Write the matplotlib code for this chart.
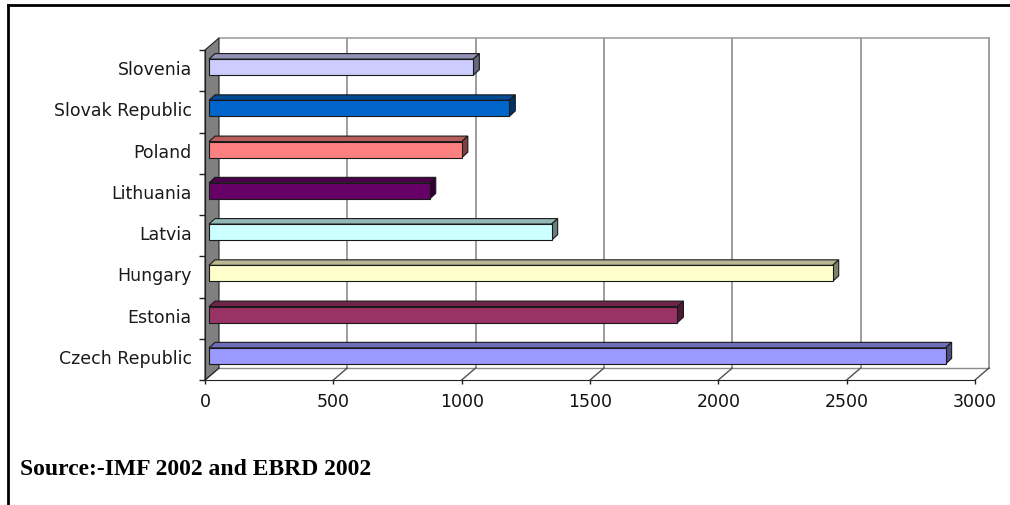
import numpy as np
import matplotlib.pyplot as plt
from matplotlib.patches import Polygon, Rectangle
from matplotlib.colors import to_rgb

# ── data ─────────────────────────────────────────────────────────────────────
countries = ["Czech Republic", "Estonia", "Hungary", "Latvia",
             "Lithuania", "Poland", "Slovak Republic", "Slovenia"]
values = [2870, 1825, 2430, 1335, 860, 985, 1170, 1030]
colors = ["#9999FF", "#993366", "#FFFFCC", "#CCFFFF",
          "#660066", "#FF8080", "#0066CC", "#CCCCFF"]
xticks = [0, 500, 1000, 1500, 2000, 2500, 3000]
source = "Source:-IMF 2002 and EBRD 2002"

# ── figure / axes geometry (pixels at dpi=100) ───────────────────────────────
W, H = 1010, 506
fig = plt.figure(figsize=(W / 100, H / 100), dpi=100)
ax_l, ax_r, ax_top, ax_bot = 205, 975, 51, 381
ax = fig.add_axes([ax_l / W, (H - ax_bot) / H,
                   (ax_r - ax_l) / W, (ax_bot - ax_top) / H])
XMAX = 3000
n = len(countries)
ax.set_xlim(0, XMAX)
ax.set_ylim(-0.5, n - 0.5)

# pixel -> data conversion for the fake depth
XPX = XMAX / (ax_r - ax_l)
YPX = n / (ax_bot - ax_top)
WALL_DX, WALL_DY = 14, 12        # depth of the wall / floor
BAR_DX0, BAR_DY0 = 4, 3.5        # bar front face set back from front plane
BAR_DX, BAR_DY = 6, 5.5          # bar thickness in depth
BAR_H = 0.39


def off(x, y, dx, dy):
    return (x + dx * XPX, y + dy * YPX)


def shade(c, f):
    r, g, b = to_rgb(c)
    return (r * f, g * f, b * f)


y0, y1 = -0.5, n - 0.5

# back wall gridlines + top/right edges
for xv in xticks[1:]:
    ax.plot(*zip(off(xv, y0, WALL_DX, WALL_DY), off(xv, y1, WALL_DX, WALL_DY)),
            color="#8c8c8c", lw=1.2, clip_on=False, zorder=1)
ax.plot(*zip(off(0, y1, WALL_DX, WALL_DY), off(XMAX, y1, WALL_DX, WALL_DY)),
        color="#a0a0a0", lw=1.2, clip_on=False, zorder=1)

# floor: back edge and slanted tick lines
ax.plot(*zip(off(0, y0, WALL_DX, WALL_DY), off(XMAX, y0, WALL_DX, WALL_DY)),
        color="#8c8c8c", lw=1.0, clip_on=False, zorder=1)
for xv in xticks:
    ax.plot(*zip((xv, y0), off(xv, y0, WALL_DX, WALL_DY)),
            color="#505050", lw=1.0, clip_on=False, zorder=1)

# left wall
wall = Polygon([(0, y0), (0, y1), off(0, y1, WALL_DX, WALL_DY),
                off(0, y0, WALL_DX, WALL_DY)],
               closed=True, facecolor="#808080", edgecolor="#202020",
               lw=0.8, clip_on=False, zorder=2)
ax.add_patch(wall)

# bars: front face, top face, right side face
for i, (v, c) in enumerate(zip(values, colors)):
    yb, yt = i - BAR_H / 2, i + BAR_H / 2
    f0 = lambda x, y: off(x, y, BAR_DX0, BAR_DY0)
    f1 = lambda x, y: off(x, y, BAR_DX0 + BAR_DX, BAR_DY0 + BAR_DY)
    top = Polygon([f0(0, yt), f0(v, yt), f1(v, yt), f1(0, yt)],
                  facecolor=shade(c, 0.72), edgecolor="#1a1a1a", lw=0.8,
                  clip_on=False, zorder=3)
    side = Polygon([f0(v, yb), f0(v, yt), f1(v, yt), f1(v, yb)],
                   facecolor=shade(c, 0.5), edgecolor="#1a1a1a", lw=0.8,
                   clip_on=False, zorder=3)
    x0, yy = f0(0, yb)
    front = Rectangle((x0, yy), v, BAR_H, facecolor=c,
                      edgecolor="#1a1a1a", lw=0.8, clip_on=False, zorder=4)
    for p in (top, side, front):
        ax.add_patch(p)

# axes decoration
for s in ("top", "right"):
    ax.spines[s].set_visible(False)
ax.spines["left"].set_color("#202020")
ax.spines["bottom"].set_color("#202020")
ax.spines["left"].set_zorder(5)
ax.set_facecolor("none")

ax.set_xticks(xticks)
ax.set_xticklabels([str(t) for t in xticks], fontsize=12.5, color="#111111")
ax.tick_params(axis="x", direction="out", length=3, width=1, pad=6,
               color="#202020")

# category labels sit level with the bar front faces
ax.set_yticks(np.arange(n) + BAR_DY0 * YPX)
ax.set_yticklabels(countries, fontsize=12.5, color="#1a1a1a")
ax.set_yticks(np.arange(-0.5, n, 1.0), minor=True)
ax.tick_params(axis="y", which="major", length=0, pad=9.5)
ax.tick_params(axis="y", which="minor", length=4, width=1, color="#202020")

# source note
fig.text(20 / W, 1 - 475 / H, source, fontsize=17, fontweight="bold",
         family="Liberation Serif", color="black", va="baseline")

# outer frame (top + left only)
fig.add_artist(plt.Line2D([8 / W, 1], [1 - 6 / H, 1 - 6 / H],
                          transform=fig.transFigure, color="black", lw=2))
fig.add_artist(plt.Line2D([8 / W, 8 / W], [0, 1 - 6 / H],
                          transform=fig.transFigure, color="black", lw=2))

fig.savefig("out.png", dpi=100)
